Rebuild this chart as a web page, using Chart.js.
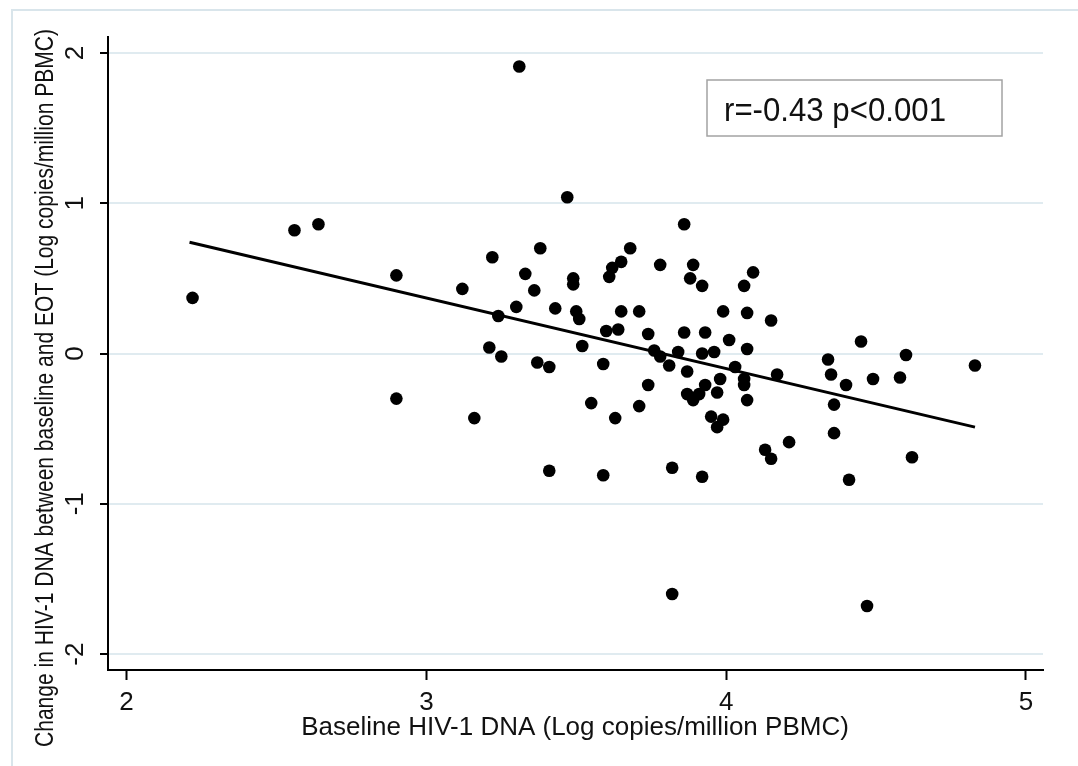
<!DOCTYPE html>
<html>
<head>
<meta charset="utf-8">
<script src="https://cdn.jsdelivr.net/npm/chart.js@4/dist/chart.umd.min.js"></script>
<style>
  html, body { margin: 0; padding: 0; background: #fff; }
  canvas { display: block; }
</style>
</head>
<body>
<canvas id="myChart" width="1078" height="766"></canvas>
<script>
// values
var baselineDna = [2.22, 2.56, 2.64, 2.90, 2.90, 3.31, 3.47, 3.86, 3.22, 3.38,
    3.68, 3.65, 3.62, 3.61, 3.78, 3.89, 3.88, 3.92, 3.33, 3.49,
    3.49, 3.12, 3.36, 3.30, 3.43, 3.50, 3.51, 3.65, 3.71, 3.99,
    3.24, 3.60, 3.64, 3.74, 3.86, 3.93, 4.01, 3.52, 3.21, 3.25,
    3.76, 3.78, 3.84, 3.81, 3.92, 3.96, 4.03, 3.37, 3.41, 3.59,
    3.87, 3.98, 3.97, 3.87, 3.89, 3.91, 3.93, 3.74, 3.55, 3.71,
    3.16, 3.63, 3.95, 3.97, 3.99, 4.09, 4.06, 4.07, 4.15, 4.07,
    4.06, 4.06, 4.07, 4.17, 4.34, 4.35, 4.40, 4.36, 4.45, 4.60,
    4.49, 4.58, 4.83, 4.36, 4.21, 4.13, 4.15, 4.62, 4.41, 4.47,
    3.92, 3.41, 3.59, 3.82, 3.82];
var changeDna = [0.37, 0.82, 0.86, 0.52, -0.30, 1.91, 1.04, 0.86, 0.64, 0.70,
    0.70, 0.61, 0.57, 0.51, 0.59, 0.59, 0.50, 0.45, 0.53, 0.50,
    0.46, 0.43, 0.42, 0.31, 0.30, 0.28, 0.23, 0.28, 0.28, 0.28,
    0.25, 0.15, 0.16, 0.13, 0.14, 0.14, 0.09, 0.05, 0.04, -0.02,
    0.02, -0.02, 0.01, -0.08, 0.00, 0.01, -0.09, -0.06, -0.09, -0.07,
    -0.12, -0.17, -0.26, -0.27, -0.31, -0.27, -0.21, -0.21, -0.33, -0.35,
    -0.43, -0.43, -0.42, -0.49, -0.44, 0.54, 0.45, 0.27, 0.22, 0.03,
    -0.17, -0.21, -0.31, -0.14, -0.04, -0.14, -0.21, -0.34, 0.08, -0.01,
    -0.17, -0.16, -0.08, -0.53, -0.59, -0.64, -0.70, -0.69, -0.84, -1.68,
    -0.82, -0.78, -0.81, -0.76, -1.60];

var fitX = [2.21, 4.83];
var fitY = [0.74, -0.49];

var xTicks = [2, 3, 4, 5];
var yTicks = [-2, -1, 0, 1, 2];

var xTitle = 'Baseline HIV-1 DNA (Log copies/million PBMC)';
var yTitle = 'Change in HIV-1 DNA between baseline and EOT (Log copies/million PBMC)';
var statText = 'r=-0.43 p<0.001';

var fontFamily = '"Liberation Sans", Arial, sans-serif';

var points = baselineDna.map(function (x, i) { return { x: x, y: changeDna[i] }; });
var fitLine = fitX.map(function (x, i) { return { x: x, y: fitY[i] }; });

// frame, rotated labels, titles and the r/p box
var decor = {
    id: 'decor',
    afterDraw: function (chart) {
        var c = chart.ctx;
        var ys = chart.scales.y;
        c.save();

        c.strokeStyle = '#d9e5eb';
        c.lineWidth = 2;
        c.beginPath();
        c.moveTo(12, 766);
        c.lineTo(12, 10);
        c.lineTo(1078, 10);
        c.stroke();

        c.fillStyle = '#111';
        c.font = '26px ' + fontFamily;
        c.textAlign = 'center';
        c.textBaseline = 'alphabetic';
        ys.ticks.forEach(function (t) {
            var py = ys.getPixelForValue(t.value);
            c.save();
            c.translate(83, py);
            c.rotate(-Math.PI / 2);
            c.fillText(String(t.value), 0, 0);
            c.restore();
        });

        c.save();
        c.font = '25px ' + fontFamily;
        c.translate(53, 388);
        c.rotate(-Math.PI / 2);
        c.fillText(yTitle, 0, 0, 718);
        c.restore();

        c.font = '26px ' + fontFamily;
        c.fillText(xTitle, 575, 735, 566);

        c.strokeStyle = '#a3a3a3';
        c.lineWidth = 1.5;
        c.strokeRect(707, 80, 295, 56);
        c.font = '33px ' + fontFamily;
        c.textAlign = 'left';
        c.fillText(statText, 724, 121, 222);

        c.restore();
    }
};

var ctx = document.getElementById('myChart').getContext('2d');

var myChart = new Chart(ctx, {
    type: 'scatter',
    data: {
        datasets: [{
            label: 'fit',
            data: fitLine,
            showLine: true,
            borderColor: '#000',
            borderWidth: 3,
            pointRadius: 0,
            fill: false
        },
        {
            label: 'points',
            data: points,
            backgroundColor: '#000',
            borderColor: '#000',
            borderWidth: 0,
            pointRadius: 6.3,
            pointStyle: 'circle'
        }]
    },
    options: {
        responsive: false,
        animation: false,
        layout: {
            padding: { top: 37, right: 35, left: 0, bottom: 0 }
        },
        plugins: {
            legend: { display: false },
            tooltip: { enabled: false }
        },
        scales: {
            x: {
                type: 'linear',
                min: 1.938,
                max: 5.057,
                afterBuildTicks: function (scale) {
                    scale.ticks = xTicks.map(function (v) { return { value: v }; });
                },
                afterFit: function (scale) { scale.height = 96; },
                grid: {
                    drawOnChartArea: false,
                    drawTicks: true,
                    tickLength: 10,
                    tickColor: '#000',
                    tickWidth: 2
                },
                border: { color: '#000', width: 2 },
                ticks: {
                    color: '#111',
                    padding: 7,
                    maxRotation: 0,
                    font: { family: fontFamily, size: 26 }
                }
            },
            y: {
                type: 'linear',
                min: -2.106,
                max: 2.106,
                afterBuildTicks: function (scale) {
                    scale.ticks = yTicks.map(function (v) { return { value: v }; });
                },
                afterFit: function (scale) { scale.width = 108; },
                grid: {
                    color: '#e0ebf0',
                    lineWidth: 2,
                    drawTicks: true,
                    tickLength: 8,
                    tickColor: '#000',
                    tickWidth: 2
                },
                border: { color: '#000', width: 2 },
                ticks: { display: false }
            }
        }
    },
    plugins: [decor]
});
</script>
</body>
</html>
